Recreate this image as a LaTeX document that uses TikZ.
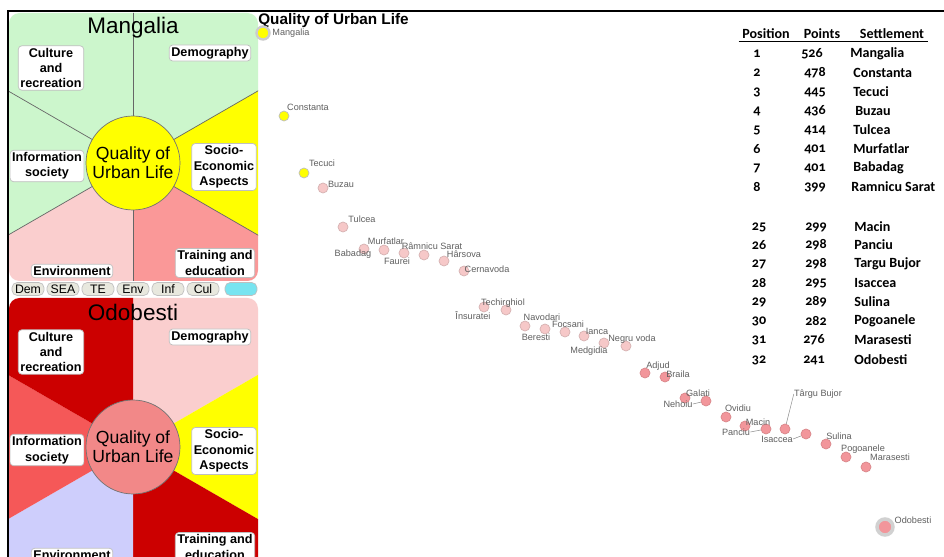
\documentclass[tikz,border=0pt]{standalone}
\usepackage{fontspec}
\setmainfont{Liberation Sans}
\newfontfamily\tabfont[Numbers=OldStyle]{Carlito}
\usepackage{tikz}
\usepackage{xcolor}
\usetikzlibrary{positioning}
\definecolor{qgreen}{RGB}{204, 246, 204}
\definecolor{qyellow}{RGB}{255, 255, 0}
\definecolor{qsalmon}{RGB}{250, 152, 152}
\definecolor{qpink}{RGB}{250, 206, 206}
\definecolor{qdarkred}{RGB}{204, 0, 0}
\definecolor{qred}{RGB}{245, 88, 88}
\definecolor{qlavender}{RGB}{206, 206, 252}
\definecolor{qhubred}{RGB}{242, 136, 136}
\definecolor{tabgray}{RGB}{232, 232, 222}
\definecolor{tabcyan}{RGB}{120, 228, 240}
\definecolor{dotlight}{RGB}{246, 200, 200}
\definecolor{dotdark}{RGB}{242, 150, 155}
\definecolor{labelgray}{RGB}{95, 95, 95}

\tikzset{
  qbox/.style={draw=black!25, fill=white, rounded corners=2pt, inner sep=1.2pt,
    align=center, font=\fontsize{7.2}{8.8}\selectfont\bfseries},
  hub/.style={circle, draw=black!55, minimum size=1.88cm, inner sep=0pt,
    align=center, font=\fontsize{10}{10.8}\selectfont},
  paneltitle/.style={font=\fontsize{12.8}{14}\selectfont},
  sectorline/.style={black!60, line width=0.4pt},
  tabchip/.style={draw=black!25, fill=tabgray, rounded corners=3pt,
    minimum width=0.64cm, minimum height=0.26cm, inner sep=0pt,
    font=\fontsize{7}{8}\selectfont},
  dot/.style={circle, minimum size=0.2cm, inner sep=0pt, fill=dotlight, draw=dotlight!85!black!90},
  darkdot/.style={dot, fill=dotdark, draw=dotdark!90!black},
  lbl/.style={font=\fontsize{5.2}{6}\selectfont, text=labelgray, inner sep=0pt},
  leader/.style={labelgray!70, line width=0.3pt},
  tabtext/.style={font=\tabfont\fontsize{8}{9}\selectfont\bfseries, inner sep=0pt},
}

\begin{document}
\begin{tikzpicture}[x=0.02cm, y=-0.02cm]
  \clip (0,0) rectangle (944,557);
  \fill[white] (0,0) rectangle (944,557);

  % Frame
  \draw[line width=0.6pt] (8,557) -- (8,11) -- (944,11);

  % Mangalia panel
  \begin{scope}[shift={(133,163)}]
    \begin{scope}
      \clip[rounded corners=6pt] (-124,-150) rectangle (125,118);
      \fill[qgreen] (0,0) -- (0,-300) -- (260,-150) -- cycle;
      \fill[qyellow] (0,0) -- (260,-150) -- (260,150) -- cycle;
      \fill[qsalmon] (0,0) -- (260,150) -- (0,300) -- cycle;
      \fill[qpink] (0,0) -- (0,300) -- (-260,150) -- cycle;
      \fill[qgreen] (0,0) -- (-260,150) -- (-260,-150) -- cycle;
      \fill[qgreen] (0,0) -- (-260,-150) -- (0,-300) -- cycle;
      \draw[sectorline] (0,0) -- (0,-300);
      \draw[sectorline] (0,0) -- (260,-150);
      \draw[sectorline] (0,0) -- (260,150);
      \draw[sectorline] (0,0) -- (0,300);
      \draw[sectorline] (0,0) -- (-260,150);
      \draw[sectorline] (0,0) -- (-260,-150);
    \end{scope}
    \node[paneltitle] (mtitle) at (0,-135) {Mangalia};
    \node[qbox] (mcul) at (-82,-95) {Culture\\and\\recreation};
    \node[qbox] (mdem) at (77,-110) {Demography};
    \node[qbox] (msea) at (91,4) {Socio-\\Economic\\Aspects};
    \node[qbox] (minf) at (-86,3) {Information\\society};
    \node[qbox] (mte) at (82,100) {Training and\\education};
    \node[qbox] (menv) at (-61,108) {Environment};
    \node[hub, fill=qyellow] (mhub) at (0,0) {Quality of\\Urban Life};
  \end{scope}

  % Tabs
  \node[tabchip] (tdem) at (28,289) {Dem};
  \node[tabchip] (tsea) at (63,289) {SEA};
  \node[tabchip] (tte) at (98,289) {TE};
  \node[tabchip] (tenv) at (133,289) {Env};
  \node[tabchip] (tinf) at (168,289) {Inf};
  \node[tabchip] (tcul) at (203,289) {Cul};
  \node[tabchip, fill=tabcyan] (tmore) at (241,289) {};

  % Odobesti panel
  \begin{scope}[shift={(133,447)}]
    \begin{scope}
      \clip[rounded corners=6pt] (-124,-149) rectangle (125,125);
      \fill[qpink] (0,0) -- (0,-300) -- (260,-150) -- cycle;
      \fill[qyellow] (0,0) -- (260,-150) -- (260,150) -- cycle;
      \fill[qdarkred] (0,0) -- (260,150) -- (0,300) -- cycle;
      \fill[qlavender] (0,0) -- (0,300) -- (-260,150) -- cycle;
      \fill[qred] (0,0) -- (-260,150) -- (-260,-150) -- cycle;
      \fill[qdarkred] (0,0) -- (-260,-150) -- (0,-300) -- cycle;
    \end{scope}
    \node[paneltitle] (otitle) at (0,-135) {Odobesti};
    \node[qbox] (ocul) at (-82,-95) {Culture\\and\\recreation};
    \node[qbox] (odem) at (77,-110) {Demography};
    \node[qbox] (osea) at (91,4) {Socio-\\Economic\\Aspects};
    \node[qbox] (oinf) at (-86,3) {Information\\society};
    \node[qbox] (ote) at (82,100) {Training and\\education};
    \node[qbox] (oenv) at (-61,108) {Environment};
    \node[hub, fill=qhubred] (ohub) at (0,0) {Quality of\\Urban Life};
  \end{scope}

  % Scatter of settlements
  \node[anchor=west, inner sep=0pt, font=\fontsize{8.7}{10}\selectfont\bfseries] (charttitle) at (258,21) {Quality of Urban Life};

  \node[dot, fill=qyellow, draw=black!20, line width=1.4pt, minimum size=0.26cm] (mangalia) at (263,33) {};
  \node[dot, fill=qyellow, draw=black!25] (constanta) at (284,116) {};
  \node[dot, fill=qyellow, draw=black!25] (tecuci) at (304,173) {};
  \node[dot] (buzau) at (323,188) {};
  \node[dot] (tulcea) at (343,227) {};
  \node[dot] (babadag) at (364,249) {};
  \node[dot] (murfatlar) at (384,250) {};
  \node[dot] (faurei) at (404,253) {};
  \node[dot] (ramnicu) at (424,255) {};
  \node[dot] (harsova) at (444,261) {};
  \node[dot] (cernavoda) at (464,271) {};
  \node[dot] (insuratei) at (484,307) {};
  \node[dot] (techirghiol) at (506,310) {};
  \node[dot] (navodari) at (525,326) {};
  \node[dot] (beresti) at (545,329) {};
  \node[dot] (focsani) at (565,332) {};
  \node[dot] (ianca) at (584,336) {};
  \node[dot] (medgidia) at (604,343) {};
  \node[dot] (negruvoda) at (626,346) {};
  \node[darkdot] (adjud) at (645,373) {};
  \node[darkdot] (braila) at (665,377) {};
  \node[darkdot] (nehoiu) at (685,398) {};
  \node[darkdot] (galati) at (706,401) {};
  \node[darkdot] (ovidiu) at (726,417) {};
  \node[darkdot] (panciu) at (745,426) {};
  \node[darkdot] (macin) at (766,429) {};
  \node[darkdot] (targubujor) at (785,429) {};
  \node[darkdot] (isaccea) at (806,434) {};
  \node[darkdot] (sulina) at (826,444) {};
  \node[darkdot] (pogoanele) at (846,457) {};
  \node[darkdot] (marasesti) at (866,467) {};
  \node[darkdot, draw=black!18, line width=2pt, minimum size=0.32cm] (odobesti) at (885,527) {};

  % Settlement labels
  \node[lbl] (mangalia-l) at (291,33) {Mangalia};
  \node[lbl] (constanta-l) at (308,107) {Constanta};
  \node[lbl] (tecuci-l) at (322,163) {Tecuci};
  \node[lbl] (buzau-l) at (341,184) {Buzau};
  \node[lbl] (tulcea-l) at (362,219) {Tulcea};
  \node[lbl] (murfatlar-l) at (386,241) {Murfatlar};
  \node[lbl] (babadag-l) at (353,254) {Babadag};
  \node[lbl] (faurei-l) at (397,261) {Faurei};
  \node[lbl] (ramnicu-l) at (432,246) {Râmnicu Sarat};
  \node[lbl] (harsova-l) at (464,254) {Hârsova};
  \node[lbl] (cernavoda-l) at (487,269) {Cernavoda};
  \node[lbl] (techirghiol-l) at (503,303) {Techirghiol};
  \node[lbl] (insuratei-l) at (473,316) {Însuratei};
  \node[lbl] (navodari-l) at (542,317) {Navodari};
  \node[lbl] (beresti-l) at (536,337) {Beresti};
  \node[lbl] (focsani-l) at (568,324) {Focsani};
  \node[lbl] (ianca-l) at (597,331) {Ianca};
  \node[lbl] (medgidia-l) at (589,351) {Medgidia};
  \node[lbl] (negruvoda-l) at (632,339) {Negru voda};
  \node[lbl] (adjud-l) at (658,366) {Adjud};
  \node[lbl] (braila-l) at (678,374) {Braila};
  \node[lbl] (nehoiu-l) at (678,404) {Nehoiu};
  \node[lbl] (galati-l) at (698,393) {Galati};
  \node[lbl] (ovidiu-l) at (738,408) {Ovidiu};
  \node[lbl] (panciu-l) at (736,432) {Panciu};
  \node[lbl] (macin-l) at (758,422) {Macin};
  \node[lbl] (targubujor-l) at (818,394) {Târgu Bujor};
  \node[lbl] (isaccea-l) at (777,439) {Isaccea};
  \node[lbl] (sulina-l) at (839,436) {Sulina};
  \node[lbl] (pogoanele-l) at (863,449) {Pogoanele};
  \node[lbl] (marasesti-l) at (890,457) {Marasesti};
  \node[lbl] (odobesti-l) at (913,520) {Odobesti};

  % Leader lines
  \draw[leader] (targubujor) -- (targubujor-l.west);
  \draw[leader] (isaccea-l.east) -- (isaccea);
  \draw[leader] (nehoiu-l.east) -- (galati);
  \draw[leader] (panciu-l.east) -- (macin);

  % Ranking table
  \node[tabtext] (hpos) at (766,34) {Position};
  \node[tabtext] (hpts) at (822,34) {Points};
  \node[tabtext] (hset) at (892,34) {Settlement};
  \draw[line width=0.6pt] ([xshift=-2pt]hpos.south west) ++(0,-1.2pt) -| ([xshift=2pt,yshift=-1.2pt]hset.south east);

  \node[tabtext] (p1) at (757,54) {1};
  \node[tabtext] (n1) at (812,54) {526};
  \node[tabtext, anchor=west] (s1) at (850,54) {Mangalia};
  \node[tabtext] (p2) at (757,73) {2};
  \node[tabtext] (n2) at (815,73) {478};
  \node[tabtext, anchor=west] (s2) at (853,73) {Constanta};
  \node[tabtext] (p3) at (757,92) {3};
  \node[tabtext] (n3) at (815,92) {445};
  \node[tabtext, anchor=west] (s3) at (853,92) {Tecuci};
  \node[tabtext] (p4) at (757,111) {4};
  \node[tabtext] (n4) at (815,111) {436};
  \node[tabtext, anchor=west] (s4) at (855,111) {Buzau};
  \node[tabtext] (p5) at (757,130) {5};
  \node[tabtext] (n5) at (815,130) {414};
  \node[tabtext, anchor=west] (s5) at (853,130) {Tulcea};
  \node[tabtext] (p6) at (757,149) {6};
  \node[tabtext] (n6) at (815,149) {401};
  \node[tabtext, anchor=west] (s6) at (853,149) {Murfatlar};
  \node[tabtext] (p7) at (757,168) {7};
  \node[tabtext] (n7) at (815,168) {401};
  \node[tabtext, anchor=west] (s7) at (853,168) {Babadag};
  \node[tabtext] (p8) at (757,187) {8};
  \node[tabtext] (n8) at (815,187) {399};
  \node[tabtext, anchor=west] (s8) at (851,187) {Ramnicu Sarat};

  \node[tabtext] (p25) at (759,227) {25};
  \node[tabtext] (n25) at (816,227) {299};
  \node[tabtext, anchor=west] (s25) at (854,227) {Macin};
  \node[tabtext] (p26) at (759,245) {26};
  \node[tabtext] (n26) at (816,245) {298};
  \node[tabtext, anchor=west] (s26) at (854,245) {Panciu};
  \node[tabtext] (p27) at (759,264) {27};
  \node[tabtext] (n27) at (816,264) {298};
  \node[tabtext, anchor=west] (s27) at (854,264) {Targu Bujor};
  \node[tabtext] (p28) at (759,283) {28};
  \node[tabtext] (n28) at (816,283) {295};
  \node[tabtext, anchor=west] (s28) at (854,283) {Isaccea};
  \node[tabtext] (p29) at (759,302) {29};
  \node[tabtext] (n29) at (816,302) {289};
  \node[tabtext, anchor=west] (s29) at (854,302) {Sulina};
  \node[tabtext] (p30) at (759,321) {30};
  \node[tabtext] (n30) at (816,321) {282};
  \node[tabtext, anchor=west] (s30) at (854,321) {Pogoanele};
  \node[tabtext] (p31) at (759,340) {31};
  \node[tabtext] (n31) at (814,340) {276};
  \node[tabtext, anchor=west] (s31) at (854,340) {Marasesti};
  \node[tabtext] (p32) at (759,360) {32};
  \node[tabtext] (n32) at (814,360) {241};
  \node[tabtext, anchor=west] (s32) at (854,360) {Odobesti};
\end{tikzpicture}
\end{document}
